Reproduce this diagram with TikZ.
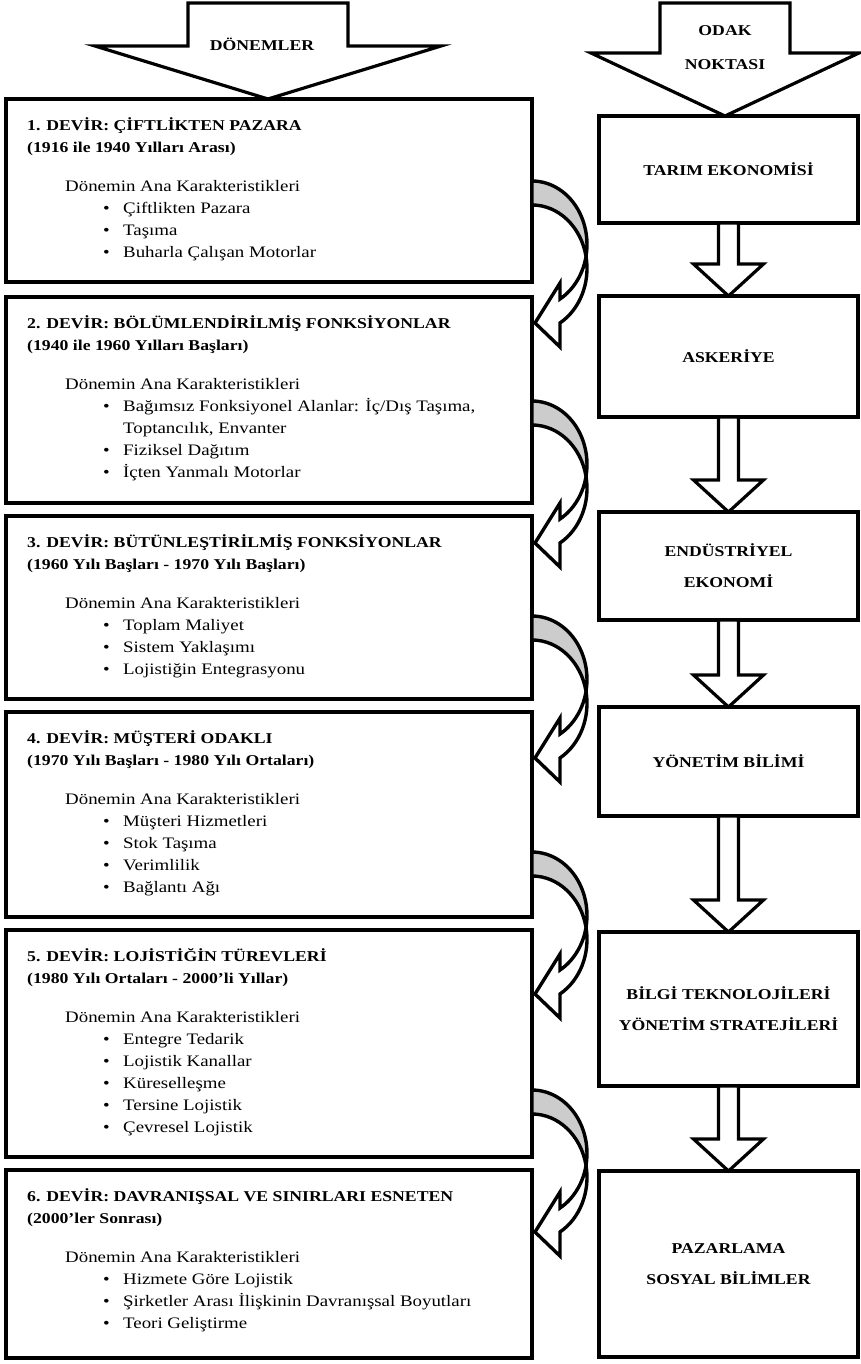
\documentclass[tikz,border=0pt]{standalone}
\usepackage{fontspec}
\setmainfont{Liberation Serif}[FakeStretch=1.18]
\usetikzlibrary{calc}
\definecolor{backface}{RGB}{204,204,204}

% text lines inside the period boxes
\newcommand{\Dtitle}[1]{{\fontsize{15}{22}\selectfont\bfseries #1}}
\newcommand{\Dhead}{\hspace*{38pt}Dönemin Ana Karakteristikleri}
\newcommand{\Ditem}[1]{\hspace*{76pt}\makebox[20pt][l]{•}#1}
\newcommand{\Dcont}[1]{\hspace*{96pt}#1}
% fixed-height strut on the first line: node top = first baseline - 15pt
\newcommand{\Dstrut}{\rule{0pt}{15pt}}

% curved arrow leaving the right edge of a period box; #1 = tail corner
\newcommand{\turnarrow}[1]{%
  \begin{scope}[shift={#1}]
    \filldraw[curvearrow, fill=backface] (0,0)
      arc[start angle=-90, end angle=10.9, x radius=55, y radius=63.4]
      arc[start angle=-10.9, end angle=-90, x radius=55, y radius=63.4] -- cycle;
    \filldraw[curvearrow, fill=white] (54.0,75.4)
      arc[start angle=-10.9, end angle=59.4, x radius=55, y radius=63.4]
      -- (28,166) -- (3,142) -- (28,102) -- (28,118)
      arc[start angle=59.4, end angle=10.9, x radius=55, y radius=63.4] -- cycle;
  \end{scope}}

% hollow block arrow from #1 (shaft start) to #2 (tip)
\newcommand{\fatarrow}[2]{%
  \draw[blockarrow] let \p1=(#1), \p2=(#2) in
    (\x1-10pt,\y1) -- (\x1-10pt,\y2+32pt) -- (\x1-35pt,\y2+32pt) -- (\x1,\y2)
    -- (\x1+35pt,\y2+32pt) -- (\x1+10pt,\y2+32pt) -- (\x1+10pt,\y1) -- cycle;}

\tikzset{
  lbox/.style={draw, line width=3.4pt, rectangle, minimum width=526pt,
    inner sep=0pt, outer sep=0pt, anchor=north west},
  rbox/.style={draw, line width=3.4pt, rectangle, minimum width=259pt,
    inner sep=0pt, outer sep=0pt, anchor=north west, align=center,
    font=\fontsize{15}{31}\selectfont\bfseries},
  ltext/.style={anchor=north west, inner sep=0pt, align=left,
    font=\fontsize{16}{22}\selectfont},
  blockarrow/.style={draw, line width=3.2pt, fill=white, line join=miter},
  curvearrow/.style={line width=3.4pt, line join=miter, miter limit=4},
  headtext/.style={font=\fontsize{15}{34}\selectfont\bfseries, align=center, inner sep=0pt}
}

\begin{document}
\begin{tikzpicture}[x=1pt, y=-1pt]
\useasboundingbox (0,0) rectangle (860,1364);

% period boxes (left column)
\node[lbox, minimum height=183pt] (b1) at (6,99) {};
\node[lbox, minimum height=206pt] (b2) at (6,297) {};
\node[lbox, minimum height=183pt] (b3) at (6,516) {};
\node[lbox, minimum height=205pt] (b4) at (6,712) {};
\node[lbox, minimum height=227pt] (b5) at (6,930) {};
\node[lbox, minimum height=188pt] (b6) at (6,1170) {};

\node[ltext] (t1) at ($(b1.north west)+(21,16)$) {%
  \Dstrut\Dtitle{1. DEVİR: ÇİFTLİKTEN PAZARA}\\
  \Dtitle{(1916 ile 1940 Yılları Arası)}\\[17pt]
  \Dhead\\
  \Ditem{Çiftlikten Pazara}\\
  \Ditem{Taşıma}\\
  \Ditem{Buharla Çalışan Motorlar}};
\node[ltext] (t2) at ($(b2.north west)+(21,16)$) {%
  \Dstrut\Dtitle{2. DEVİR: BÖLÜMLENDİRİLMİŞ FONKSİYONLAR}\\
  \Dtitle{(1940 ile 1960 Yılları Başları)}\\[17pt]
  \Dhead\\
  \Ditem{Bağımsız Fonksiyonel Alanlar: İç/Dış Taşıma,}\\
  \Dcont{Toptancılık, Envanter}\\
  \Ditem{Fiziksel Dağıtım}\\
  \Ditem{İçten Yanmalı Motorlar}};
\node[ltext] (t3) at ($(b3.north west)+(21,16)$) {%
  \Dstrut\Dtitle{3. DEVİR: BÜTÜNLEŞTİRİLMİŞ FONKSİYONLAR}\\
  \Dtitle{(1960 Yılı Başları - 1970 Yılı Başları)}\\[17pt]
  \Dhead\\
  \Ditem{Toplam Maliyet}\\
  \Ditem{Sistem Yaklaşımı}\\
  \Ditem{Lojistiğin Entegrasyonu}};
\node[ltext] (t4) at ($(b4.north west)+(21,16)$) {%
  \Dstrut\Dtitle{4. DEVİR: MÜŞTERİ ODAKLI}\\
  \Dtitle{(1970 Yılı Başları - 1980 Yılı Ortaları)}\\[17pt]
  \Dhead\\
  \Ditem{Müşteri Hizmetleri}\\
  \Ditem{Stok Taşıma}\\
  \Ditem{Verimlilik}\\
  \Ditem{Bağlantı Ağı}};
\node[ltext] (t5) at ($(b5.north west)+(21,16)$) {%
  \Dstrut\Dtitle{5. DEVİR: LOJİSTİĞİN TÜREVLERİ}\\
  \Dtitle{(1980 Yılı Ortaları - 2000’li Yıllar)}\\[17pt]
  \Dhead\\
  \Ditem{Entegre Tedarik}\\
  \Ditem{Lojistik Kanallar}\\
  \Ditem{Küreselleşme}\\
  \Ditem{Tersine Lojistik}\\
  \Ditem{Çevresel Lojistik}};
\node[ltext] (t6) at ($(b6.north west)+(21,16)$) {%
  \Dstrut\Dtitle{6. DEVİR: DAVRANIŞSAL VE SINIRLARI ESNETEN}\\
  \Dtitle{(2000’ler Sonrası)}\\[17pt]
  \Dhead\\
  \Ditem{Hizmete Göre Lojistik}\\
  \Ditem{Şirketler Arası İlişkinin Davranışsal Boyutları}\\
  \Ditem{Teori Geliştirme}};

% focus boxes (right column)
\node[rbox, minimum height=107pt] (r1) at (599,116) {TARIM EKONOMİSİ};
\node[rbox, minimum height=121pt] (r2) at (599,296) {ASKERİYE};
\node[rbox, minimum height=108pt] (r3) at (599,512) {ENDÜSTRİYEL\\EKONOMİ};
\node[rbox, minimum height=109pt] (r4) at (599,707) {YÖNETİM BİLİMİ};
\node[rbox, minimum height=154pt] (r5) at (599,932) {BİLGİ TEKNOLOJİLERİ\\YÖNETİM STRATEJİLERİ};
\node[rbox, minimum height=186pt] (r6) at (599,1171) {PAZARLAMA\\SOSYAL BİLİMLER};

% column headings
\coordinate (dtop) at (268,3);
\coordinate (dtip) at (b1.north -| dtop);
\draw[blockarrow] let \p1=(dtop), \p2=(dtip) in
  (\x1-80pt,\y1) -- (\x1-80pt,\y2+53pt) -- (\x1-173pt,\y2+53pt) -- (\x2,\y2)
  -- (\x1+173pt,\y2+53pt) -- (\x1+80pt,\y2+53pt) -- (\x1+80pt,\y1) -- cycle;
\node[headtext] (dlabel) at (262,44) {DÖNEMLER};

\coordinate (otop) at (725,3);
\coordinate (otip) at (r1.north -| otop);
\draw[blockarrow] let \p1=(otop), \p2=(otip) in
  (\x1-65pt,\y1) -- (\x1-65pt,\y2+63pt) -- (\x1-134pt,\y2+63pt) -- (\x2,\y2)
  -- (\x1+134pt,\y2+63pt) -- (\x1+65pt,\y2+63pt) -- (\x1+65pt,\y1) -- cycle;
\node[headtext] (olabel) at (725,48) {ODAK\\NOKTASI};

% arrows between focus boxes
\fatarrow{r1.south}{r2.north}
\fatarrow{r2.south}{r3.north}
\fatarrow{r3.south}{r4.north}
\fatarrow{r4.south}{r5.north}
\fatarrow{r5.south}{r6.north}

% curved arrows between period boxes
\turnarrow{($(b1.south east)+(0,-101)$)}
\turnarrow{($(b2.south east)+(0,-102)$)}
\turnarrow{($(b3.south east)+(0,-83)$)}
\turnarrow{($(b4.south east)+(0,-65)$)}
\turnarrow{($(b5.south east)+(0,-67)$)}
\end{tikzpicture}
\end{document}
